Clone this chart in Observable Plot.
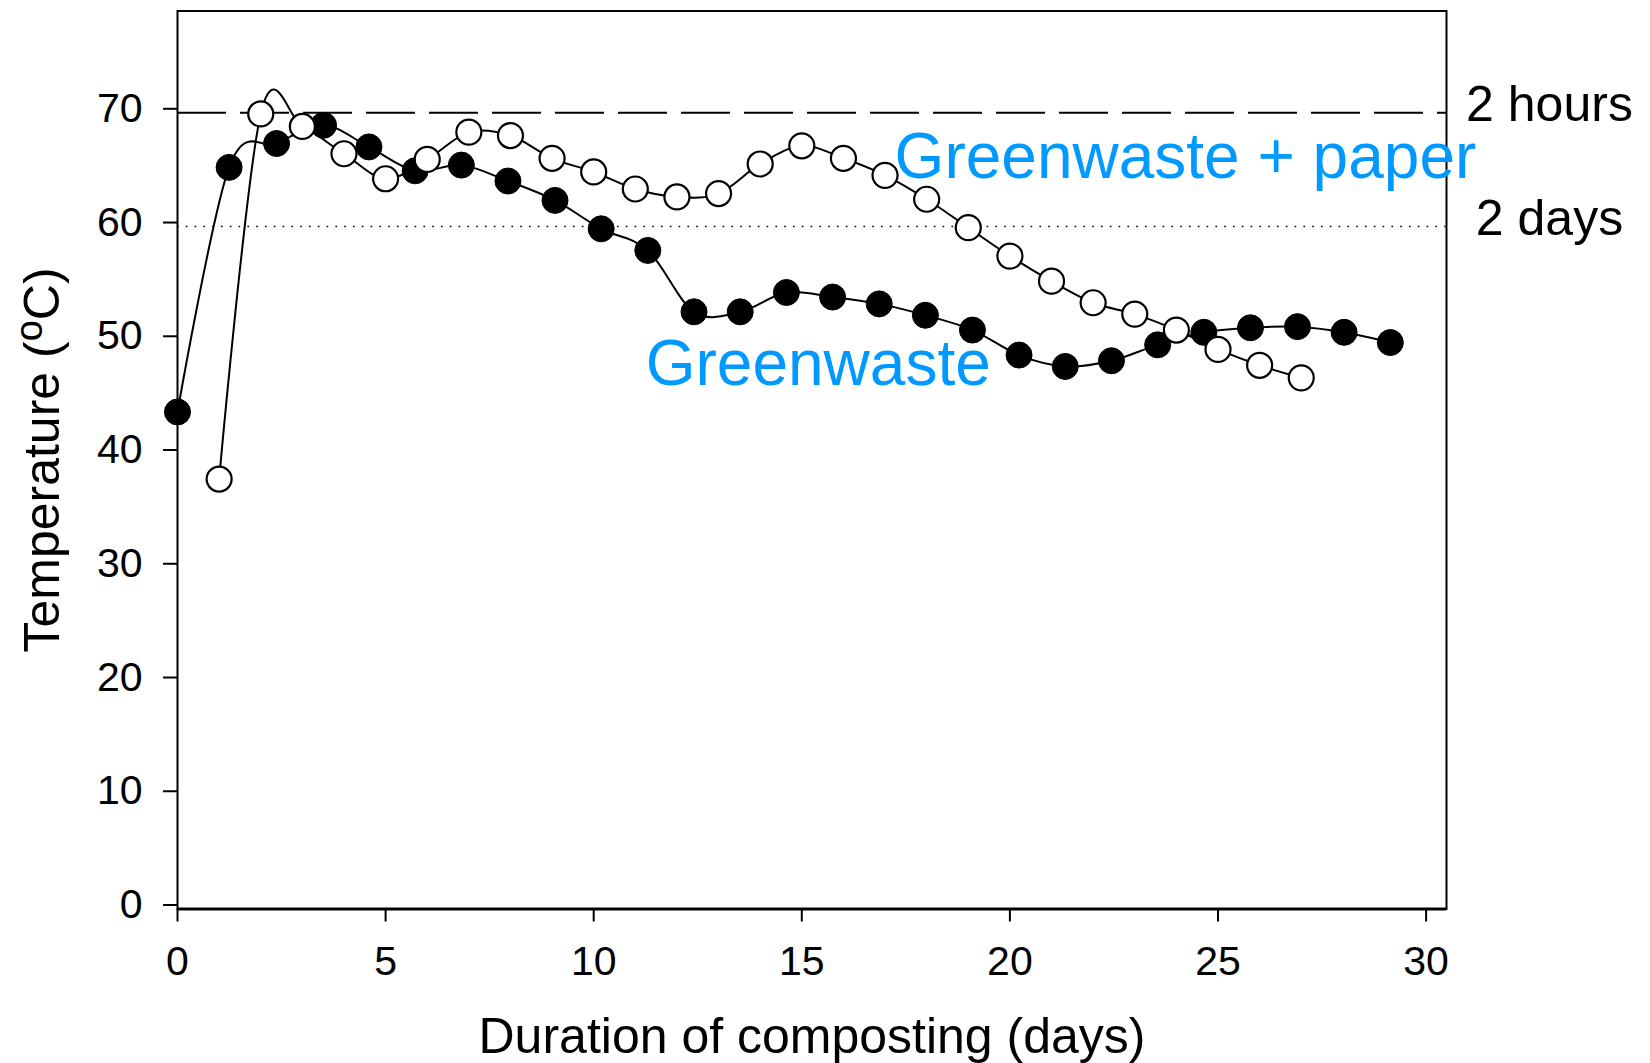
<!DOCTYPE html>
<html>
<head>
<meta charset="utf-8">
<script src="https://cdn.jsdelivr.net/npm/d3@7"></script>
<script src="https://cdn.jsdelivr.net/npm/@observablehq/plot@0.6"></script>
<style>
  html, body { margin: 0; padding: 0; background: #fff; }
  #chart svg { display: block; }
</style>
</head>
<body>
<div id="chart"></div>
<script>
// Greenwaste (filled circles)
const gwDays  = [0, 1.24, 2.38, 3.51, 4.6, 5.71, 6.82, 7.94, 9.07, 10.18, 11.3, 12.41, 13.52, 14.63, 15.74, 16.86, 17.97, 19.1, 20.22, 21.33, 22.44, 23.55, 24.66, 25.78, 26.91, 28.03, 29.14];
const gwTemps = [43.7, 65.2, 67.3, 68.9, 67.0, 64.9, 65.4, 64.0, 62.3, 59.8, 57.9, 52.5, 52.5, 54.2, 53.8, 53.2, 52.2, 50.9, 48.7, 47.7, 48.2, 49.6, 50.7, 51.1, 51.2, 50.7, 49.8];

// Greenwaste + paper (open circles)
const gpDays  = [1, 2, 3, 4, 5, 6, 7, 8, 9, 10, 11, 12, 13, 14, 15, 16, 17, 18, 19, 20, 21, 22, 23, 24, 25, 26, 27];
const gpTemps = [37.8, 69.9, 68.8, 66.4, 64.2, 65.9, 68.3, 68.0, 66.0, 64.8, 63.3, 62.6, 62.9, 65.5, 67.1, 66.0, 64.5, 62.4, 59.9, 57.4, 55.2, 53.3, 52.3, 50.9, 49.2, 47.8, 46.7];

// Reference thresholds
const refTemps  = [70, 60];
const refLabels = ["2 hours", "2 days"];

// Series labels (position in data units)
const seriesLabels = ["Greenwaste + paper", "Greenwaste"];
const labelDays    = [17.23, 11.25];
const labelTemps   = [64.3, 46.03];

// Ticks
const xTicks = [0, 5, 10, 15, 20, 25, 30];
const yTicks = [0, 10, 20, 30, 40, 50, 60, 70];

const gw = gwDays.map((d, i) => ({day: d, temp: gwTemps[i]}));
const gp = gpDays.map((d, i) => ({day: d, temp: gpTemps[i]}));
const refs = refTemps.map((t, i) => ({temp: t, label: refLabels[i]}));
const labs = seriesLabels.map((s, i) => ({day: labelDays[i], temp: labelTemps[i], label: s}));

const FONT = "'Liberation Sans', Arial, Helvetica, sans-serif";

const plot = Plot.plot({
  width: 1650,
  height: 1063,
  marginLeft: 177,
  marginRight: 204,
  marginTop: 10.5,
  marginBottom: 154.5,
  style: {fontFamily: FONT, fontSize: "41px", color: "#000", background: "#fff"},
  x: {domain: [0, 30.49], axis: null},
  y: {domain: [0, 78.95], axis: null},
  marks: [
    Plot.ruleY([70], {strokeDasharray: "49,14", strokeWidth: 2, stroke: "#000"}),
    Plot.ruleY([60], {strokeDasharray: "1.6,7.2", strokeWidth: 1.6, stroke: "#000"}),
    Plot.frame({stroke: "#000", strokeWidth: 2}),
    Plot.ruleY([0], {stroke: "#000", strokeWidth: 3}),
    Plot.axisY({ticks: yTicks, tickSize: 14, tickPadding: 21, strokeWidth: 2, fontSize: 41, dy: -4, tickFormat: d => d, label: null}),
    Plot.axisX({ticks: xTicks, tickSize: 13, tickPadding: 24, strokeWidth: 2, fontSize: 41, tickFormat: d => d, label: null}),
    // Greenwaste
    Plot.line(gw, {x: "day", y: "temp", curve: "cardinal", stroke: "#000", strokeWidth: 2}),
    Plot.dot(gw, {x: "day", y: "temp", r: 13, fill: "#000", stroke: "#000", strokeWidth: 1}),
    // Greenwaste + paper
    Plot.line(gp, {x: "day", y: "temp", curve: "cardinal", stroke: "#000", strokeWidth: 2}),
    Plot.dot(gp, {x: "day", y: "temp", r: 12.5, fill: "#fff", stroke: "#000", strokeWidth: 2.2}),
    // Threshold labels
    Plot.text(refs, {y: "temp", text: "label", frameAnchor: "right", dx: 103, dy: -8, textAnchor: "middle", lineAnchor: "middle", fontSize: 50, fill: "#000"}),
    // Series labels
    Plot.text(labs, {x: "day", y: "temp", text: "label", textAnchor: "start", lineAnchor: "bottom", fontSize: 64, fill: "#0099ff"}),
    // Axis titles
    Plot.text(["Duration of composting (days)"], {text: d => d, frameAnchor: "bottom", dy: 143.5, textAnchor: "middle", lineAnchor: "bottom", fontSize: 50, fill: "#000"}),
    Plot.text(["Temperature (oC)"], {text: d => d, frameAnchor: "left", dx: -135, rotate: -90, textAnchor: "middle", lineAnchor: "middle", fontSize: 50, fill: "#000"})
  ]
});

document.getElementById("chart").appendChild(plot);

// superscript "o" in the y-axis title
d3.select(plot).selectAll("text").filter(function() { return this.textContent === "Temperature (oC)"; })
  .each(function() {
    const t = d3.select(this);
    t.text(null);
    t.append("tspan").text("Temperature (");
    t.append("tspan").attr("font-size", 38).attr("dy", -17).text("o");
    t.append("tspan").attr("dy", 17).text("C)");
  });
</script>
</body>
</html>
